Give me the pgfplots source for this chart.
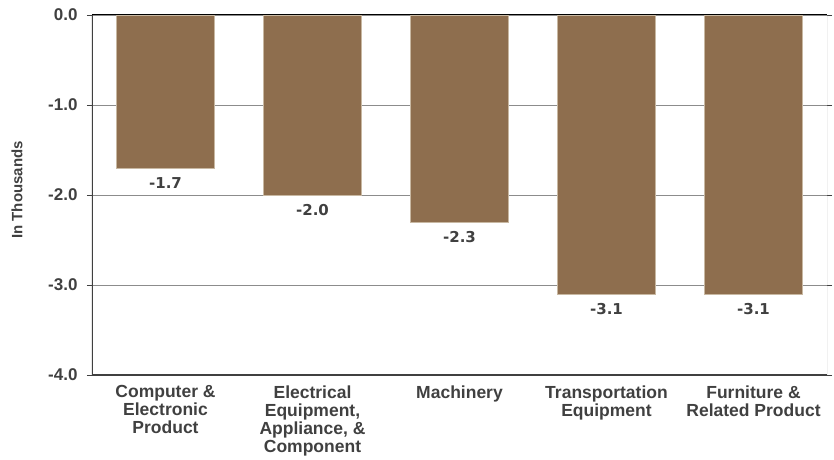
\documentclass[border=0pt]{standalone}
\usepackage{fontspec}
\usepackage{pgfplots}
\pgfplotsset{compat=1.18}
\newfontfamily\labfont{Liberation Sans}
\newfontfamily\datfont{DejaVu Sans}
\definecolor{barbrown}{HTML}{8E6E4E}
\definecolor{baredge}{HTML}{C8B8A2}
\definecolor{gridgray}{HTML}{8C8C8C}
\definecolor{axisdark}{HTML}{404040}
\begin{document}
\begin{tikzpicture}
\begin{axis}[
	name=ax,
	scale only axis,
	width=735pt, height=360pt,
	xmin=-0.5, xmax=4.5,
	ymin=-4, ymax=0,
	ybar, bar width=98pt, bar shift=0pt,
	axis line style={draw=none},
	xtick={0,1,2,3,4},
	xticklabels={{Computer \&\\Electronic\\Product}, {Electrical\\Equipment,\\Appliance, \&\\Component}, {Machinery}, {Transportation\\Equipment}, {Furniture \&\\Related Product}},
	xtick style={draw=none},
	xticklabel style={align=center, font=\labfont\bfseries\fontsize{17.5}{18}\selectfont, color=axisdark, yshift=-2pt},
	ytick={-4,-3,-2,-1,0},
	yticklabels={-4.0,-3.0,-2.0,-1.0,0.0},
	yticklabel style={font=\labfont\bfseries\fontsize{17}{18}\selectfont, color=axisdark, xshift=-6pt},
	tick align=outside,
	major tick length=5pt,
	ytick style={draw=axisdark, line width=0.8pt},
	ymajorgrids,
	grid style={gridgray, line width=0.6pt},
	ylabel={In Thousands},
	ylabel style={at={(axis description cs:-0.102,0.514)}, anchor=center, font=\labfont\bfseries\fontsize{15}{16}\selectfont, color=axisdark},
	point meta=explicit symbolic,
	nodes near coords,
	every node near coord/.append style={anchor=north, yshift=-6pt, font=\datfont\bfseries\fontsize{15}{16}\selectfont, color=axisdark},
]
	\addplot[fill=barbrown, draw=baredge, line width=0.6pt]
		coordinates {(0,-1.7) [-1.7] (1,-2.0) [-2.0] (2,-2.3) [-2.3] (3,-3.1) [-3.1] (4,-3.1) [-3.1]};
	\draw[gridgray, line width=1pt] (rel axis cs:1,0) -- (rel axis cs:1,1);
	\draw[black, line width=1pt] (rel axis cs:0,1) -- (rel axis cs:1,1);
	\draw[axisdark, line width=1.2pt] (rel axis cs:1,0) -- (rel axis cs:0,0) -- (rel axis cs:0,1);
\end{axis}
\useasboundingbox ([xshift=-92pt,yshift=-83pt]ax.south west) rectangle ([xshift=7pt,yshift=15pt]ax.north east);
\end{tikzpicture}
\end{document}
